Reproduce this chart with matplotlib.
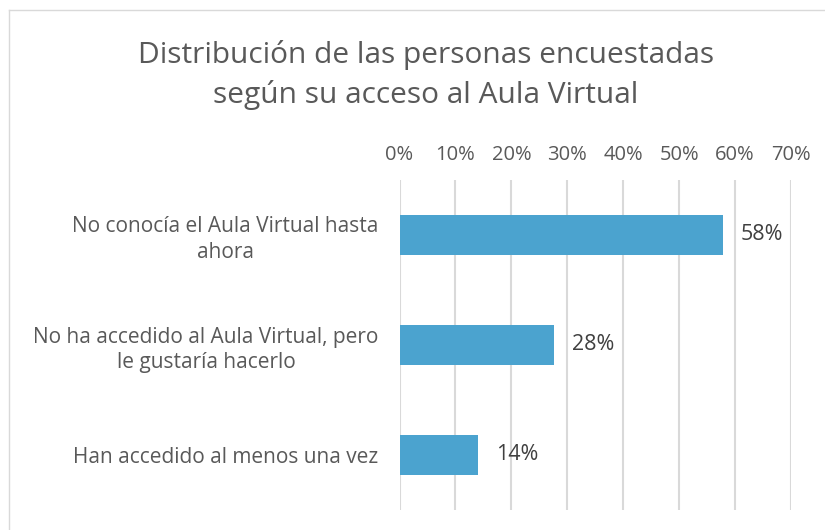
import matplotlib.pyplot as plt
from matplotlib.lines import Line2D

categories = [
    "No conocía el Aula Virtual hasta\nahora",
    "No ha accedido al Aula Virtual, pero\nle gustaría hacerlo",
    "Han accedido al menos una vez",
]
values = [57.8, 27.7, 14.0]
ticks = [0, 10, 20, 30, 40, 50, 60, 70]
title = "Distribución de las personas encuestadas\nsegún su acceso al Aula Virtual"

plt.rcParams['font.family'] = ['Open Sans', 'DejaVu Sans']

fig = plt.figure(figsize=(8.25, 5.3), dpi=100)
ax = fig.add_axes([399.5 / 825, 1 - 510 / 530, 391.5 / 825, 330 / 530])

ypos = range(len(categories))
ax.barh(ypos, values, height=0.36, color="#4BA3CF", zorder=3)
ax.set_xlim(0, 70)
ax.set_ylim(len(categories) - 0.5, -0.5)

ax.set_xticks(ticks)
ax.set_xticklabels([f"{t}%" for t in ticks], fontsize=14.5, color="#595959")
ax.xaxis.tick_top()
ax.tick_params(axis="x", length=0, pad=11)
ax.set_yticks(list(ypos))
ax.set_yticklabels(categories, fontsize=15, color="#595959",
                   multialignment="center", linespacing=1.3)
ax.tick_params(axis="y", length=0, pad=15)
ax.grid(axis="x", color="#D9D9D9", linewidth=1.5, zorder=0)
for s in ax.spines.values():
    s.set_visible(False)

for y, v in zip(ypos, values):
    ax.annotate(f"{v:.0f}%", (v, y), xytext=(13, 0), textcoords="offset points",
                va="center", ha="left", fontsize=15.5, color="#404040")

fig.text(426 / 825, 1 - 75 / 530, title, ha="center", va="center",
         fontsize=21.5, color="#595959", linespacing=1.45)

fig.add_artist(Line2D([9 / 825, 1], [1 - 10 / 530, 1 - 10 / 530], color="#D9D9D9", lw=1))
fig.add_artist(Line2D([9 / 825, 9 / 825], [0, 1 - 10 / 530], color="#D9D9D9", lw=1))

fig.savefig("out.png", dpi=100)
